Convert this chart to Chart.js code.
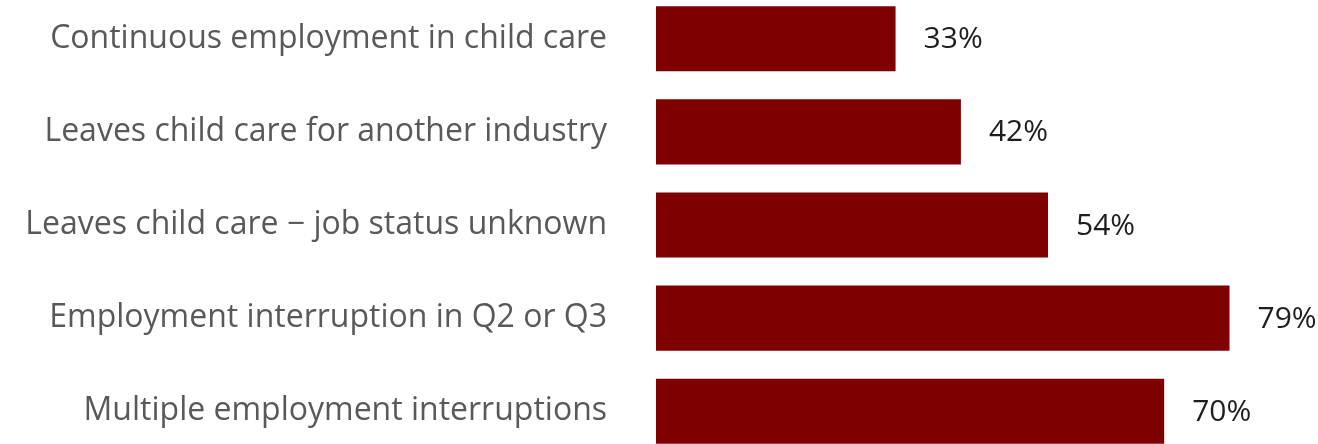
<!DOCTYPE html>
<html>
<head>
<meta charset="utf-8">
<script src="https://cdn.jsdelivr.net/npm/chart.js@4.4.1/dist/chart.umd.min.js"></script>
<style>
  html, body { margin: 0; padding: 0; background: #fff; overflow: hidden; }
  #wrap { position: absolute; left: 0; top: -27px; width: 1318px; height: 504px; }
</style>
</head>
<body>
<div id="wrap"><canvas id="barchart" width="1318" height="504"></canvas></div>
<script>
const categories = [
    'Continuous employment in child care',
    'Leaves child care for another industry',
    'Leaves child care \u2212 job status unknown',
    'Employment interruption in Q2 or Q3',
    'Multiple employment interruptions'
];
const shares = [33, 42, 54, 79, 70];

// Percent label just past the end of each bar
const valueLabels = {
    id: 'valueLabels',
    afterDatasetsDraw(chart) {
        const ctx = chart.ctx;
        const meta = chart.getDatasetMeta(0);
        ctx.save();
        ctx.font = '30px "Open Sans"';
        ctx.fillStyle = '#1e1e1e';
        ctx.textAlign = 'left';
        ctx.textBaseline = 'middle';
        meta.data.forEach((bar, i) => {
            ctx.fillText(shares[i] + '%', bar.x + 28, bar.y + 1);
        });
        ctx.restore();
    }
};

const ctxBar = document.getElementById('barchart').getContext('2d');

const barchart = new Chart(ctxBar, {
    type: 'bar',
    data: {
        labels: categories,
        datasets: [{
            data: shares,
            backgroundColor: '#7f0000',
            borderWidth: 0,
            categoryPercentage: 1,
            barPercentage: 0.7
        }]
    },
    options: {
        indexAxis: 'y',
        responsive: false,
        animation: false,
        layout: { padding: { left: 0, right: 5, top: 0, bottom: 0 } },
        plugins: {
            legend: { display: false },
            tooltip: { enabled: false }
        },
        scales: {
            x: {
                display: false,
                min: 0,
                max: 90.5
            },
            y: {
                // tick marks stay hidden, their length just spaces the labels off the bars
                grid: { display: false, drawTicks: true, tickLength: 49 },
                border: { display: false },
                afterFit(scale) { scale.width = 656; },
                ticks: {
                    padding: 0,
                    color: '#595959',
                    font: { family: 'Open Sans', size: 32 }
                }
            }
        }
    },
    plugins: [valueLabels]
});
</script>
</body>
</html>
